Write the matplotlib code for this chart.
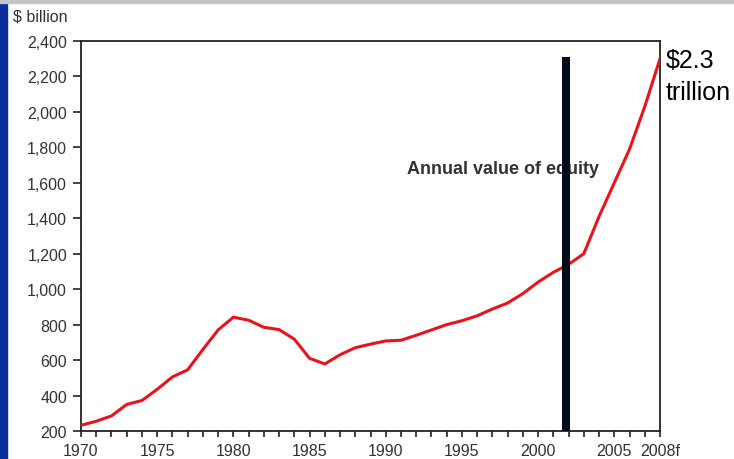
import numpy as np
import matplotlib
matplotlib.use("Agg")
import matplotlib.pyplot as plt
from matplotlib.patches import Rectangle

plt.rcParams['font.family'] = ['Liberation Sans', 'DejaVu Sans']

# data
years = list(range(1970, 2009))
equity = [232, 255, 285, 350, 372, 435, 505, 545, 660, 770, 842,
          825, 785, 772, 718, 610, 578, 630, 670, 690, 708,
          712, 740, 770, 800, 822, 850, 888, 922, 975, 1040,
          1095, 1140, 1200, 1410, 1600, 1790, 2030, 2300]
tick_years = [1970, 1975, 1980, 1985, 1990, 1995, 2000, 2005, 2008]
tick_names = ['1970', '1975', '1980', '1985', '1990', '1995', '2000', '2005', '2008f']
y_ticks = list(range(200, 2401, 200))
marker_year = 2001.85
marker_top = 2310

fig = plt.figure(figsize=(7.34, 4.6), dpi=100)
fig.patch.set_facecolor('white')

# slide frame: blue strip left, grey band top
fig.add_artist(Rectangle((0, 0), 7 / 734, 1, transform=fig.transFigure,
                         color='#0a2f9c', zorder=0))
fig.add_artist(Rectangle((0, 1 - 4 / 460), 1, 4 / 460, transform=fig.transFigure,
                         color='#c4c4c8', zorder=0))

ax = fig.add_axes([81 / 734, 28 / 460, 579 / 734, 390 / 460])
ax.plot(years, equity, color='#e8141c', lw=2.2, solid_joinstyle='round', zorder=3)
ax.plot([marker_year, marker_year], [200, marker_top], color='#050a18', lw=5.8,
        solid_capstyle='butt', zorder=4)

ax.set_xlim(1970, 2008)
ax.set_ylim(200, 2400)
ax.set_xticks(years)
ax.set_xticklabels([tick_names[tick_years.index(y)] if y in tick_years else '' for y in years])
ax.set_yticks(y_ticks)
ax.set_yticklabels(['{:,}'.format(v) for v in y_ticks])
ax.tick_params(axis='both', direction='out', width=1.2, color='#222222',
               labelsize=11.5, labelcolor='#333333')
ax.tick_params(axis='x', pad=5, length=4)
ax.tick_params(axis='y', pad=4, length=6)
for s in ax.spines.values():
    s.set_linewidth(1.3)
    s.set_color('#222222')

ax.text(1991.4, 1678, 'Annual value of equity', fontsize=13, fontweight='bold',
        color='#333333', va='center', ha='left', zorder=2)

fig.text(13 / 734, 1 - 17 / 460, '$ billion', fontsize=11.5, color='#333333', va='center')
fig.text(666 / 734, 1 - 61 / 460, '$2.3', fontsize=18, color='black', va='center')
fig.text(666 / 734, 1 - 93 / 460, 'trillion', fontsize=18, color='black', va='center')

fig.savefig('out.png', dpi=100)
